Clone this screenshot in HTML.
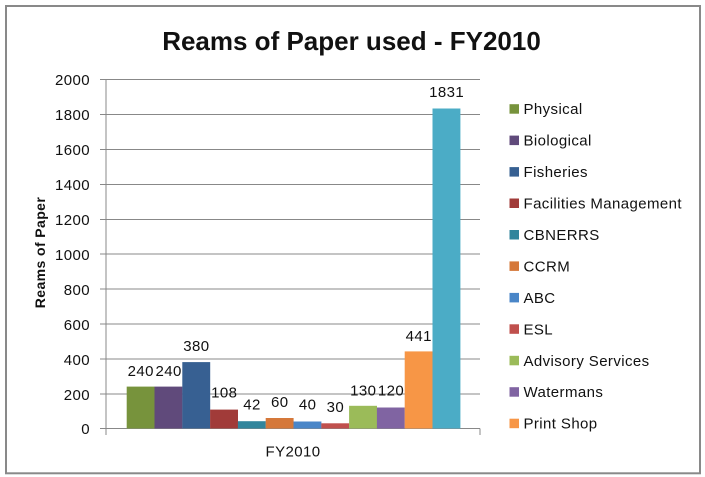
<!DOCTYPE html>
<html><head><meta charset="utf-8"><style>
html,body{margin:0;padding:0;background:#fff;}
svg{display:block;}
text{font-family:"Liberation Sans",Arial,sans-serif;fill:#111;}
</style></head><body>
<svg width="705" height="477" viewBox="0 0 705 477" xmlns="http://www.w3.org/2000/svg">
<rect x="0" y="0" width="705" height="477" fill="#fff"/>
<rect x="6" y="6" width="694" height="467.3" fill="none" stroke="#898989" stroke-width="2"/>
<text x="351.5" y="50" font-size="26" font-weight="bold" text-anchor="middle">Reams of Paper used - FY2010</text>
<g stroke="#888" stroke-width="1">
<line x1="100" y1="79.5" x2="480" y2="79.5"/>
<line x1="100" y1="114.5" x2="480" y2="114.5"/>
<line x1="100" y1="149.5" x2="480" y2="149.5"/>
<line x1="100" y1="184.5" x2="480" y2="184.5"/>
<line x1="100" y1="219.5" x2="480" y2="219.5"/>
<line x1="100" y1="254" x2="480" y2="254"/>
<line x1="100" y1="289" x2="480" y2="289"/>
<line x1="100" y1="324" x2="480" y2="324"/>
<line x1="100" y1="359" x2="480" y2="359"/>
<line x1="100" y1="394" x2="480" y2="394"/>
<line x1="100" y1="428.5" x2="480" y2="428.5"/>
<line x1="106" y1="79" x2="106" y2="435"/>
<line x1="480" y1="428.5" x2="480" y2="435"/>
</g>
<g font-size="15" text-anchor="end" letter-spacing="0.4">
<text x="90" y="85">2000</text>
<text x="90" y="120">1800</text>
<text x="90" y="155">1600</text>
<text x="90" y="190">1400</text>
<text x="90" y="225">1200</text>
<text x="90" y="260">1000</text>
<text x="90" y="295">800</text>
<text x="90" y="330">600</text>
<text x="90" y="365">400</text>
<text x="90" y="400">200</text>
<text x="90" y="434">0</text>
</g>
<text transform="translate(45,252.5) rotate(-90)" font-size="14" font-weight="bold" text-anchor="middle" letter-spacing="0.4">Reams of Paper</text>
<g>
<rect x="126.7" y="386.6" width="27.9" height="41.9" fill="#77933C"/>
<rect x="154.5" y="386.6" width="27.9" height="41.9" fill="#604A7B"/>
<rect x="182.3" y="362.1" width="27.9" height="66.4" fill="#376092"/>
<rect x="210.1" y="409.6" width="27.9" height="18.9" fill="#A13B39"/>
<rect x="237.9" y="421.2" width="27.9" height="7.3" fill="#31859C"/>
<rect x="265.7" y="418.0" width="27.9" height="10.5" fill="#D5783A"/>
<rect x="293.5" y="421.5" width="27.9" height="7.0" fill="#4A86C8"/>
<rect x="321.3" y="423.3" width="27.9" height="5.2" fill="#C0504D"/>
<rect x="349.1" y="405.8" width="27.9" height="22.7" fill="#9BBB59"/>
<rect x="376.9" y="407.5" width="27.9" height="21.0" fill="#8064A2"/>
<rect x="404.7" y="351.4" width="27.9" height="77.1" fill="#F79646"/>
<rect x="432.5" y="108.5" width="27.9" height="320.0" fill="#4BACC6"/>
</g>
<g font-size="15" text-anchor="middle" letter-spacing="0.4">
<text x="140.8" y="376">240</text>
<text x="168.6" y="376">240</text>
<text x="196.4" y="351">380</text>
<text x="224.2" y="397.5">108</text>
<text x="252" y="409.5">42</text>
<text x="279.8" y="407">60</text>
<text x="307.6" y="409.5">40</text>
<text x="335.4" y="412">30</text>
<text x="363.2" y="395.5">130</text>
<text x="391" y="395.5">120</text>
<text x="418.8" y="341">441</text>
<text x="446.6" y="97">1831</text>
</g>
<text x="293" y="456.7" font-size="15" text-anchor="middle" letter-spacing="0.4">FY2010</text>
<g font-size="15" letter-spacing="0.4">
<rect x="509.5" y="104.2" width="9.5" height="9.5" fill="#77933C"/><text x="523.5" y="114.2">Physical</text>
<rect x="509.5" y="135.6" width="9.5" height="9.5" fill="#604A7B"/><text x="523.5" y="145.6">Biological</text>
<rect x="509.5" y="167.1" width="9.5" height="9.5" fill="#376092"/><text x="523.5" y="177.1">Fisheries</text>
<rect x="509.5" y="198.5" width="9.5" height="9.5" fill="#A13B39"/><text x="523.5" y="208.5">Facilities Management</text>
<rect x="509.5" y="230" width="9.5" height="9.5" fill="#31859C"/><text x="523.5" y="240">CBNERRS</text>
<rect x="509.5" y="261.4" width="9.5" height="9.5" fill="#D5783A"/><text x="523.5" y="271.4">CCRM</text>
<rect x="509.5" y="292.9" width="9.5" height="9.5" fill="#4A86C8"/><text x="523.5" y="302.9">ABC</text>
<rect x="509.5" y="324.3" width="9.5" height="9.5" fill="#C0504D"/><text x="523.5" y="334.3">ESL</text>
<rect x="509.5" y="355.8" width="9.5" height="9.5" fill="#9BBB59"/><text x="523.5" y="365.8">Advisory Services</text>
<rect x="509.5" y="387.2" width="9.5" height="9.5" fill="#8064A2"/><text x="523.5" y="397.2">Watermans</text>
<rect x="509.5" y="418.7" width="9.5" height="9.5" fill="#F79646"/><text x="523.5" y="428.7">Print Shop</text>
</g>
</svg>
</body></html>
